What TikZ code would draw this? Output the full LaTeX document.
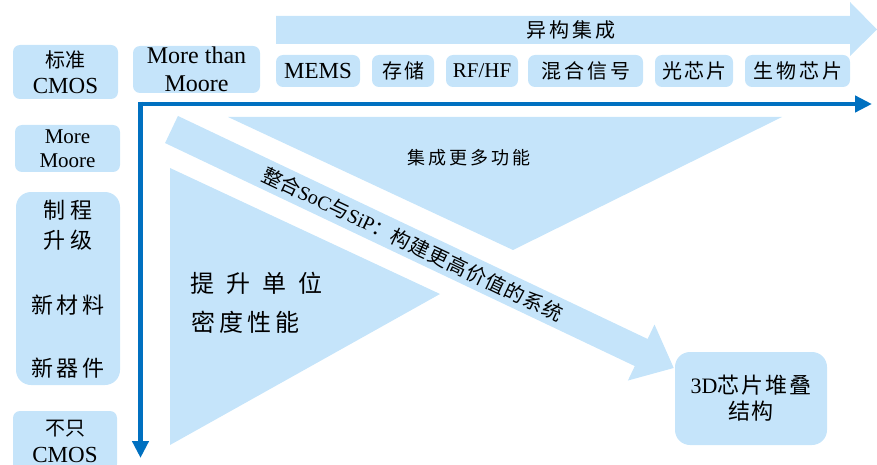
\documentclass[tikz,border=0pt]{standalone}
\usepackage{fontspec}
\setmainfont{Liberation Serif}
\newfontfamily\cjk{Noto Sans CJK SC}
\usetikzlibrary{arrows.meta}
\definecolor{lb}{RGB}{197,228,250}
\definecolor{axisblue}{RGB}{0,112,192}
\newcommand{\gp}[1]{\hspace{#1pt}}
\newcommand{\fs}[2]{\fontsize{#1}{#2}\selectfont}
\begin{document}
\begin{tikzpicture}[x=1pt,y=-1pt,
  box/.style={fill=lb, rounded corners=7pt, inner sep=0pt, align=center, text=black},
  txt/.style={inner sep=0pt, align=center, text=black},
  axisline/.style={draw=axisblue, line width=4.5pt, -{Triangle[length=17pt,width=16pt]}},
]
\useasboundingbox (0,0) rectangle (877,465);

% top heterogeneous integration arrow
\fill[lb] (276,16) -- (850,16) -- (850,2) -- (877,29.5) -- (850,56) -- (850,44) -- (276,44) -- cycle;
\node[txt, font=\cjk\fs{20}{24}] (hetero) at (571,30) {异\gp{3}构\gp{3}集\gp{3}成};

% top row boxes
\node[box, minimum width=105pt, minimum height=54pt, font=\fs{23}{26}] (std) at (65.5,72) {{\cjk\fs{20}{26}标准}\\CMOS};
\node[box, minimum width=127pt, minimum height=47pt, font=\fs{24}{28}] (mtm) at (196.5,69.5) {More than\\Moore};
\node[box, minimum width=84pt, minimum height=32pt, font=\fs{23}{24}] (mems) at (318,71) {MEMS};
\node[box, minimum width=62pt, minimum height=32pt, font=\cjk\fs{20}{24}] (mem) at (403,71) {存\gp{2}储};
\node[box, minimum width=72pt, minimum height=32pt, font=\fs{21}{24}] (rf) at (482,71) {RF/HF};
\node[box, minimum width=115pt, minimum height=32pt, font=\cjk\fs{20}{24}] (mix) at (585.5,71) {混\gp{3}合\gp{3}信\gp{3}号};
\node[box, minimum width=78pt, minimum height=32pt, font=\cjk\fs{20}{24}] (opt) at (694,71) {光\gp{2}芯\gp{2}片};
\node[box, minimum width=105pt, minimum height=32pt, font=\cjk\fs{20}{24}] (bio) at (797.5,71) {生\gp{3}物\gp{3}芯\gp{3}片};

% left column boxes
\node[box, minimum width=105pt, minimum height=47pt, font=\fs{21}{24}] (mm) at (67.5,148.5) {More\\Moore};
\node[box, rounded corners=15pt, minimum width=104pt, minimum height=193pt] (proc) at (68,288.5) {};
\node[txt, font=\cjk\fs{22}{26}] (p1) at (68,210) {制\gp{5}程};
\node[txt, font=\cjk\fs{22}{26}] (p2) at (68,240) {升\gp{5}级};
\node[txt, font=\cjk\fs{22}{26}] (p3) at (68,305) {新\gp{4}材\gp{4}料};
\node[txt, font=\cjk\fs{22}{26}] (p4) at (68,368) {新\gp{4}器\gp{4}件};
\node[box, minimum width=104pt, minimum height=60pt, font=\fs{23}{27}] (notonly) at (65,441) {{\cjk\fs{20}{27}不只}\\CMOS};

% triangles
\fill[lb] (228,117) -- (782,117) -- (513,250) -- cycle;
\node[txt, font=\cjk\fs{18}{22}] (more) at (469,158) {集\gp{3}成\gp{3}更\gp{3}多\gp{3}功\gp{3}能};
\fill[lb] (170,168) -- (170,445) -- (440,294) -- cycle;
\node[txt, anchor=west, font=\cjk\fs{24}{28}] (dens1) at (190,283) {提\gp{12}升\gp{12}单\gp{12}位};
\node[txt, anchor=west, font=\cjk\fs{24}{28}] (dens2) at (191,322) {密\gp{4}度\gp{4}性\gp{4}能};

% diagonal arrow
\begin{scope}[shift={(171.5,129.5)}, rotate=-25.4]
  \fill[lb] (0,-15) -- (520,-15) -- (520,-31) -- (556,0) -- (520,31) -- (520,15) -- (0,15) -- cycle;
  \node[txt, rotate=-25.4, font=\fs{20}{22}] (soc) at (267,0)
    {{\cjk 整合}SoC{\cjk 与}SiP{\cjk ：构\gp{1}建\gp{1}更\gp{1}高\gp{1}价\gp{1}值\gp{1}的\gp{1}系\gp{1}统}};
\end{scope}

% 3D box
\node[box, rounded corners=15pt, minimum width=152pt, minimum height=93pt, font=\fs{22}{26}] (threed) at (751,398.5)
  {3D{\cjk 芯\gp{2}片\gp{2}堆\gp{2}叠}\\{\cjk 结\gp{2}构}};

% axes
\coordinate (origin) at (138,104);
\coordinate (xend) at (872,104);
\coordinate (vtop) at (140.5,101.75);
\coordinate (yend) at (140.5,458);
\draw[axisline] (origin) -- (xend);
\draw[axisline] (vtop) -- (yend);
\end{tikzpicture}
\end{document}
